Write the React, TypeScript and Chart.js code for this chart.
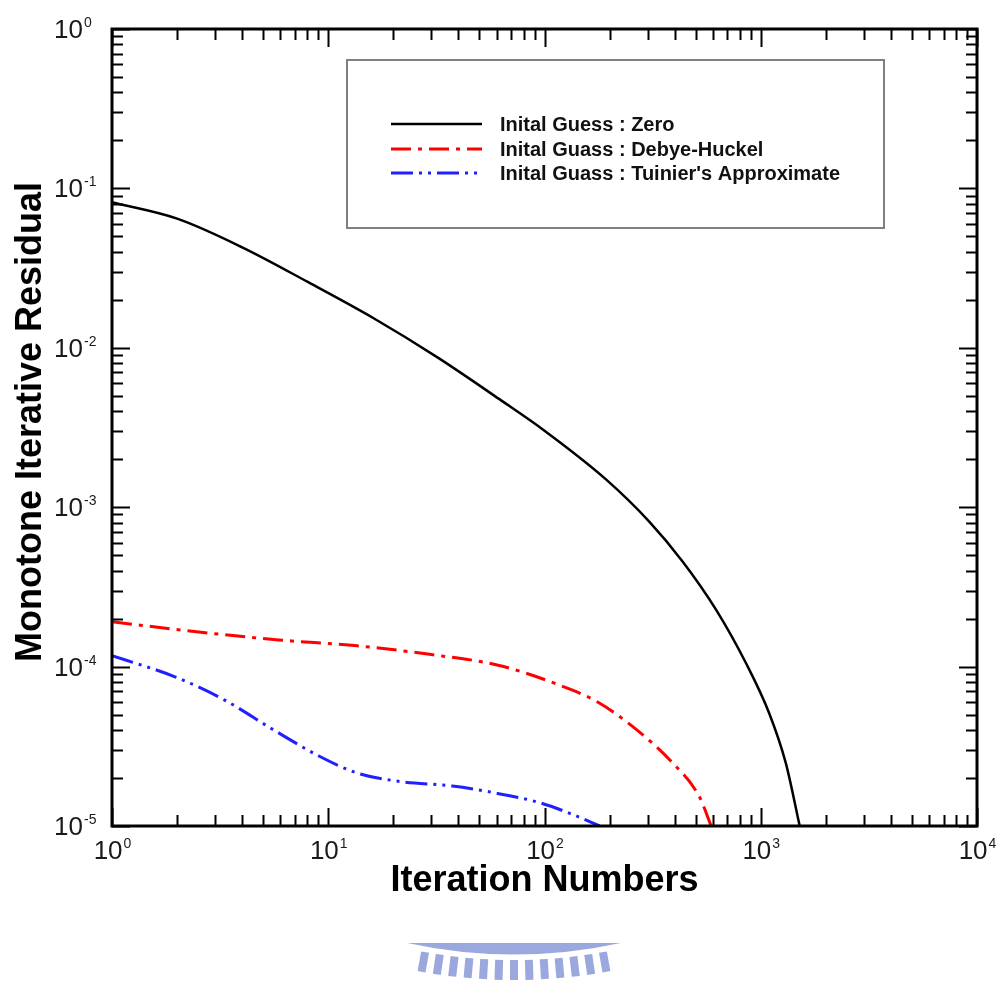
import React, { useEffect, useRef } from "react";
import { Chart, registerables } from "chart.js";
Chart.register(...registerables);

// ---------- data ----------
const SERIES_LABELS = [
  "Inital Guess : Zero",
  "Inital Guass : Debye-Huckel",
  "Inital Guass : Tuinier's Approximate",
];
const SERIES_COLORS = ["#000000", "#ff0000", "#2020ff"];

const zeroX = [1, 2, 4, 8, 16, 32, 63, 100, 193, 305, 435, 621, 855, 1094, 1306, 1514];
const zeroY = [0.0818, 0.0646, 0.0427, 0.026, 0.0155, 0.00871, 0.00468, 0.00302, 0.00149, 0.000813, 0.000457, 0.000228, 0.000105, 5.1e-5, 2.48e-5, 1.0e-5];

const debyeX = [1, 2.4, 5.9, 13.6, 30, 61, 113, 176, 256, 390, 520, 590];
const debyeY = [1.91e-4, 1.66e-4, 1.47e-4, 1.35e-4, 1.19e-4, 1.02e-4, 7.8e-5, 6.0e-5, 4.2e-5, 2.5e-5, 1.53e-5, 1.0e-5];

const tuinierX = [1, 1.94, 3.3, 5.6, 9.1, 13.6, 21, 37.5, 58, 95, 135, 180];
const tuinierY = [1.17e-4, 8.66e-5, 6.19e-5, 4.0e-5, 2.74e-5, 2.15e-5, 1.91e-5, 1.78e-5, 1.62e-5, 1.4e-5, 1.18e-5, 1.0e-5];

const X_TICKS = [1, 10, 100, 1000, 10000];
const X_TICK_EXP = ["0", "1", "2", "3", "4"];
const Y_TICKS = [1, 0.1, 0.01, 0.001, 0.0001, 0.00001];
const Y_TICK_EXP = ["0", "-1", "-2", "-3", "-4", "-5"];

const X_TITLE = "Iteration Numbers";
const Y_TITLE = "Monotone Iterative Residual";

const toPts = (xs: number[], ys: number[]) => xs.map((x, i) => ({ x, y: ys[i] }));

const FONT = "'Liberation Sans', Arial, Helvetica, sans-serif";

const decorPlugin = {
  id: "decor",
  afterDatasetsDraw(chart: any) {
    const { ctx, chartArea: a, scales } = chart;
    const xs = scales.x;
    const ys = scales.y;
    ctx.save();

    // minor / major ticks pointing inward on all 4 sides
    ctx.strokeStyle = "#000";
    ctx.lineWidth = 2;
    const MAJ = 18;
    const MIN = 11;
    for (let e = 0; e <= 4; e++) {
      for (let k = 1; k <= 9; k++) {
        if (e === 4 && k > 1) break;
        const v = k * Math.pow(10, e);
        const p = Math.round(xs.getPixelForValue(v)) + 0.5;
        const len = k === 1 ? MAJ : MIN;
        ctx.beginPath();
        ctx.moveTo(p, a.bottom);
        ctx.lineTo(p, a.bottom - len);
        ctx.moveTo(p, a.top);
        ctx.lineTo(p, a.top + len);
        ctx.stroke();
      }
    }
    for (let e = -5; e <= 0; e++) {
      for (let k = 1; k <= 9; k++) {
        if (e === 0 && k > 1) break;
        const v = k * Math.pow(10, e);
        const p = Math.round(ys.getPixelForValue(v)) + 0.5;
        const len = k === 1 ? MAJ : MIN;
        ctx.beginPath();
        ctx.moveTo(a.left, p);
        ctx.lineTo(a.left + len, p);
        ctx.moveTo(a.right, p);
        ctx.lineTo(a.right - len, p);
        ctx.stroke();
      }
    }

    // frame
    ctx.lineWidth = 3;
    ctx.strokeRect(a.left, a.top, a.right - a.left, a.bottom - a.top);

    // tick labels
    ctx.fillStyle = "#1a1a1a";
    const baseFont = `26px ${FONT}`;
    const expFont = `14px ${FONT}`;
    X_TICKS.forEach((v, i) => {
      const p = xs.getPixelForValue(v);
      ctx.font = baseFont;
      const w1 = ctx.measureText("10").width;
      ctx.font = expFont;
      const w2 = ctx.measureText(X_TICK_EXP[i]).width;
      const start = p - (w1 + w2) / 2;
      ctx.textAlign = "left";
      ctx.textBaseline = "alphabetic";
      ctx.font = baseFont;
      ctx.fillText("10", start, 859);
      ctx.font = expFont;
      ctx.fillText(X_TICK_EXP[i], start + w1 + 1, 848);
    });
    Y_TICKS.forEach((v, i) => {
      const p = ys.getPixelForValue(v);
      ctx.textAlign = "right";
      ctx.textBaseline = "alphabetic";
      ctx.font = baseFont;
      ctx.fillText("10", 83, p + 9);
      ctx.textAlign = "left";
      ctx.font = expFont;
      ctx.fillText(Y_TICK_EXP[i], 84, p - 2);
    });

    // axis titles
    ctx.fillStyle = "#000";
    ctx.font = `bold 36px ${FONT}`;
    ctx.textAlign = "center";
    ctx.textBaseline = "alphabetic";
    ctx.fillText(X_TITLE, (a.left + a.right) / 2, 891);
    ctx.save();
    ctx.translate(41, 422);
    ctx.rotate(-Math.PI / 2);
    ctx.fillText(Y_TITLE, 0, 0);
    ctx.restore();

    // legend box
    ctx.fillStyle = "#fff";
    ctx.fillRect(347, 60, 537, 168);
    ctx.strokeStyle = "#808080";
    ctx.lineWidth = 2;
    ctx.strokeRect(347, 60, 537, 168);
    const rows = [124, 149, 173];
    chart.data.datasets.forEach((ds: any, i: number) => {
      const yy = rows[i];
      ctx.strokeStyle = ds.borderColor;
      ctx.lineWidth = ds.borderWidth;
      ctx.setLineDash(ds.borderDash || []);
      ctx.beginPath();
      ctx.moveTo(391, yy);
      ctx.lineTo(482, yy);
      ctx.stroke();
      ctx.setLineDash([]);
      ctx.fillStyle = "#111";
      ctx.font = `bold 20px ${FONT}`;
      ctx.textAlign = "left";
      ctx.textBaseline = "middle";
      ctx.fillText(ds.label, 500, yy + 1);
    });

    // watermark (partial logo at the bottom)
    ctx.save();
    ctx.beginPath();
    ctx.rect(0, 943, 999, 43);
    ctx.clip();
    ctx.fillStyle = "#9aa8de";
    ctx.strokeStyle = "#9aa8de";
    const cx = 514;
    const cy = 455;
    ctx.lineWidth = 13;
    ctx.beginPath();
    ctx.arc(cx, cy, 493, Math.PI * 0.3, Math.PI * 0.7);
    ctx.stroke();
    ctx.lineWidth = 8;
    for (let t = -6; t <= 6; t++) {
      const ang = Math.PI / 2 + t * 0.0295;
      const r1 = 505;
      const r2 = 525;
      ctx.beginPath();
      ctx.moveTo(cx + r1 * Math.cos(ang), cy + r1 * Math.sin(ang));
      ctx.lineTo(cx + r2 * Math.cos(ang), cy + r2 * Math.sin(ang));
      ctx.stroke();
    }
    ctx.restore();

    ctx.restore();
  },
};

export default function App() {
  const ref = useRef<HTMLCanvasElement | null>(null);
  useEffect(() => {
    if (!ref.current) return;
    const chart = new Chart(ref.current, {
      type: "line",
      data: {
        datasets: [
          {
            label: SERIES_LABELS[0],
            data: toPts(zeroX, zeroY),
            borderColor: SERIES_COLORS[0],
            borderWidth: 2.5,
            pointRadius: 0,
            cubicInterpolationMode: "monotone",
          },
          {
            label: SERIES_LABELS[1],
            data: toPts(debyeX, debyeY),
            borderColor: SERIES_COLORS[1],
            borderWidth: 3,
            borderDash: [20, 7, 4, 7],
            pointRadius: 0,
            cubicInterpolationMode: "monotone",
          },
          {
            label: SERIES_LABELS[2],
            data: toPts(tuinierX, tuinierY),
            borderColor: SERIES_COLORS[2],
            borderWidth: 3,
            borderDash: [22, 6, 3, 6, 3, 6],
            pointRadius: 0,
            cubicInterpolationMode: "monotone",
          },
        ],
      } as any,
      options: {
        responsive: false,
        animation: false,
        devicePixelRatio: 1,
        layout: { padding: { left: 112, top: 29, right: 22, bottom: 160 } },
        plugins: { legend: { display: false }, tooltip: { enabled: false } },
        scales: {
          x: { type: "logarithmic", min: 1, max: 10000, display: false },
          y: { type: "logarithmic", min: 1e-5, max: 1, display: false },
        },
      } as any,
      plugins: [decorPlugin],
    });
    return () => chart.destroy();
  }, []);
  return (
    <div style={{ position: "absolute", left: 0, top: 0, width: 999, height: 986, background: "#fff" }}>
      <canvas ref={ref} width={999} height={986} />
    </div>
  );
}
